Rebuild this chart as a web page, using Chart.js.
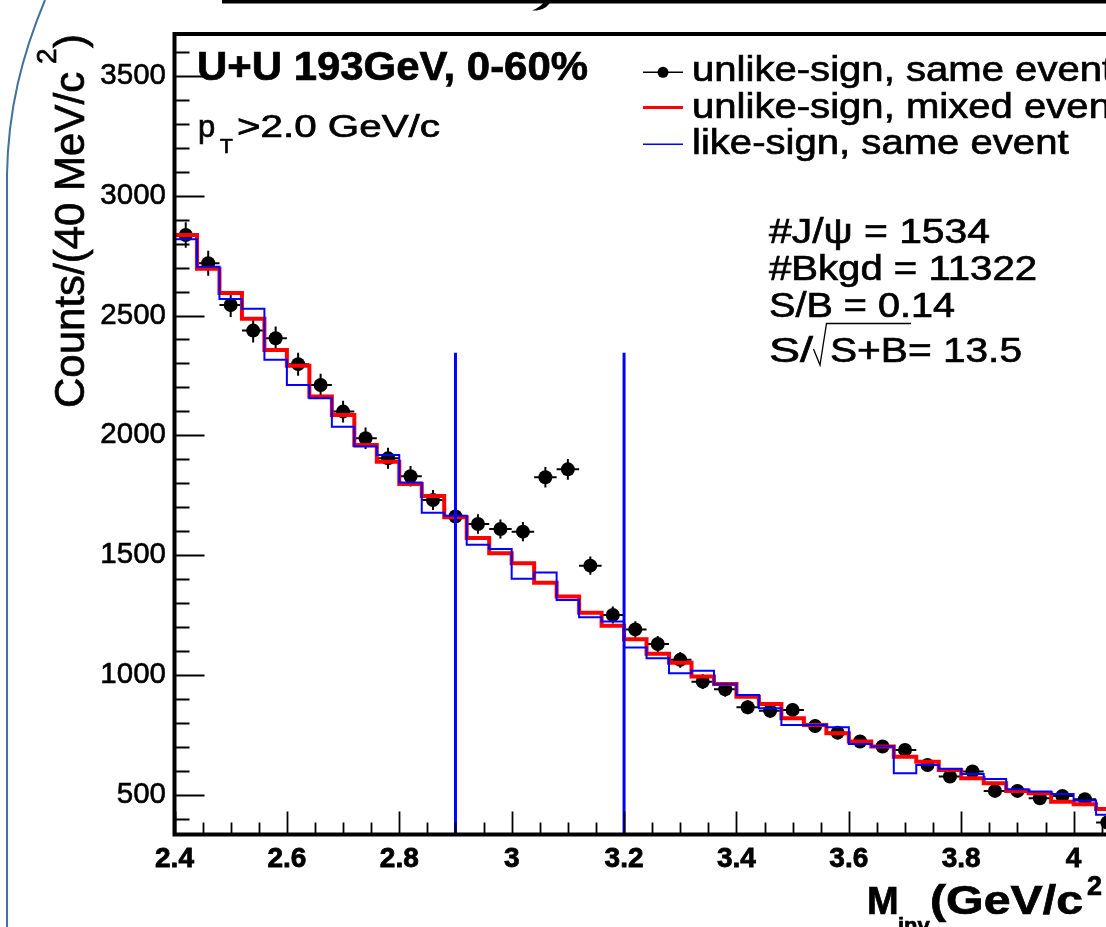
<!DOCTYPE html>
<html>
<head>
<meta charset="utf-8">
<script src="https://cdn.jsdelivr.net/npm/chart.js@4"></script>
<style>
  html, body { margin: 0; padding: 0; background: #fff; }
  #wrap { position: relative; width: 1106px; height: 927px; overflow: hidden; background: #fff; }
  #myChart { position: absolute; left: 0; top: 0; }
  #deco { position: absolute; left: 0; top: 0; pointer-events: none; }
</style>
</head>
<body>
<div id="wrap">
  <canvas id="myChart" width="1260" height="927" style="width:1260px;height:927px"></canvas>
  <svg id="deco" width="1106" height="927">
    <!-- slide border + bottom of the slide title -->
    <path d="M45 0 C22 55 8 110 7 175 L7 927" fill="none" stroke="#41719c" stroke-width="2"/>
    <rect x="222" y="0" width="884" height="3.5" fill="#000"/>
    <path d="M546 0 L551 0 Q548 9 537 10.5 L532 10.5 Q541 7 546 0 Z" fill="#000"/>
  </svg>
</div>
<script>
// bin centres (GeV/c^2), 40 MeV bins
const massBins = [
  2.42, 2.46, 2.50, 2.54, 2.58, 2.62, 2.66, 2.70, 2.74, 2.78,
  2.82, 2.86, 2.90, 2.94, 2.98, 3.02, 3.06, 3.10, 3.14, 3.18,
  3.22, 3.26, 3.30, 3.34, 3.38, 3.42, 3.46, 3.50, 3.54, 3.58,
  3.62, 3.66, 3.70, 3.74, 3.78, 3.82, 3.86, 3.90, 3.94, 3.98,
  4.02, 4.06
];
const halfBin = 0.02;

// unlike-sign, same event (points)
const sameUnlike = [
  2836, 2718, 2544, 2437, 2405, 2297, 2210, 2099, 1988, 1904,
  1829, 1730, 1661, 1630, 1609, 1598, 1825, 1858, 1456, 1250,
  1190, 1129, 1063, 972, 940, 865, 850, 854, 787, 759,
  722, 701, 687, 624, 576, 597, 516, 516, 485, 495,
  481, 384
];
// unlike-sign, mixed event (red)
const mixedUnlike = [
  2836, 2695, 2594, 2487, 2356, 2290, 2162, 2085, 1960, 1890,
  1797, 1747, 1658, 1571, 1508, 1466, 1385, 1327, 1260, 1205,
  1149, 1088, 1051, 993, 962, 909, 879, 819, 791, 757,
  722, 701, 659, 638, 603, 569, 548, 516, 506, 471,
  460, 440
];
// like-sign, same event (blue)
const likeSign = [
  2818, 2704, 2569, 2528, 2315, 2210, 2155, 2036, 1953, 1918,
  1803, 1677, 1664, 1543, 1526, 1401, 1427, 1313, 1241, 1223,
  1114, 1070, 1007, 1017, 961, 916, 861, 791, 791, 782,
  712, 701, 590, 624, 608, 587, 566, 523, 513, 503,
  476, 416
];

// J/psi mass window
const cutEdges = [2.9, 3.2];
const cutTop = 2345;

const xTickValues = [2.4, 2.6, 2.8, 3.0, 3.2, 3.4, 3.6, 3.8, 4.0, 4.2];
const yTickValues = [500, 1000, 1500, 2000, 2500, 3000, 3500];

const X_MIN = 2.4, X_MAX = 4.2;
const Y_MIN = 334, Y_MAX = 3675;

const FONT = '"Liberation Sans", Arial, Helvetica, sans-serif';

// histogram outline from bin contents
function stepData(values) {
  const pts = massBins.map((m, i) => ({ x: m - halfBin, y: values[i] }));
  const last = massBins.length - 1;
  pts.push({ x: massBins[last] + halfBin, y: values[last] });
  return pts;
}

// text a bit heavier, like the scanned ROOT picture
function drawText(ctx, str, x, y) {
  ctx.fillText(str, x, y);
  ctx.strokeText(str, x, y);
}

function fitText(ctx, str, x, y, font, width) {
  ctx.font = font;
  const w = ctx.measureText(str).width;
  ctx.save();
  ctx.translate(x, y);
  ctx.scale(width ? width / w : 1, 1);
  drawText(ctx, str, 0, 0);
  ctx.restore();
}

// error bars for the same-event points
const errorBars = {
  id: "errorBars",
  afterDatasetDraw(chart, args) {
    if (args.index !== 0) return;
    const { ctx, chartArea, scales: { x, y } } = chart;
    ctx.save();
    ctx.beginPath();
    ctx.rect(chartArea.left, chartArea.top, chartArea.right - chartArea.left, chartArea.bottom - chartArea.top);
    ctx.clip();
    ctx.strokeStyle = "#000";
    ctx.lineWidth = 2;
    massBins.forEach((m, i) => {
      const v = sameUnlike[i];
      const e = Math.sqrt(v);
      const px = x.getPixelForValue(m);
      const py = y.getPixelForValue(v);
      ctx.beginPath();
      ctx.moveTo(x.getPixelForValue(m - halfBin), py);
      ctx.lineTo(x.getPixelForValue(m + halfBin), py);
      ctx.moveTo(px, y.getPixelForValue(v - e));
      ctx.lineTo(px, y.getPixelForValue(v + e));
      ctx.stroke();
    });
    ctx.restore();
  },
};

// ROOT style frame with inner ticks
const rootFrame = {
  id: "rootFrame",
  afterDatasetsDraw(chart) {
    const { ctx, chartArea: a, scales: { x, y } } = chart;
    ctx.save();
    ctx.strokeStyle = "#000";
    ctx.lineWidth = 1.8;
    ctx.beginPath();
    // y ticks
    for (let v = Math.ceil(Y_MIN / 100) * 100; v <= Y_MAX; v += 100) {
      const py = Math.round(y.getPixelForValue(v)) + 0.5;
      const len = v % 500 === 0 ? 30 : 15;
      ctx.moveTo(a.left, py);
      ctx.lineTo(a.left + len, py);
    }
    // x ticks
    for (let k = 0; k <= 36; k++) {
      const v = X_MIN + k * 0.05;
      const px = Math.round(x.getPixelForValue(v)) + 0.5;
      const len = k % 4 === 0 ? 23 : 12;
      ctx.moveTo(px, a.bottom);
      ctx.lineTo(px, a.bottom - len);
    }
    ctx.stroke();
    ctx.lineWidth = 4;
    ctx.strokeRect(a.left, a.top, a.right - a.left, a.bottom - a.top);
    ctx.restore();
  },
};

// titles, legend and stats text
const rootText = {
  id: "rootText",
  afterDraw(chart) {
    const ctx = chart.ctx;
    ctx.save();
    ctx.fillStyle = "#000";
    ctx.strokeStyle = "#000";
    ctx.lineWidth = 0.7;
    ctx.textBaseline = "alphabetic";
    ctx.textAlign = "left";

    // system label
    fitText(ctx, "U+U 193GeV, 0-60%", 197, 80, `bold 40px ${FONT}`, 391);
    ctx.font = `31px ${FONT}`;
    drawText(ctx, "p", 198, 137);
    ctx.font = `21px ${FONT}`;
    drawText(ctx, "T", 220, 153);
    fitText(ctx, ">2.0 GeV/c", 237, 137, `31px ${FONT}`, 203);

    // legend
    ctx.font = `35px ${FONT}`;
    const sx = 376.6 / ctx.measureText("like-sign, same event").width;
    const legendRows = [
      { text: "unlike-sign, same event", y: 81, color: "#000", width: 1.5, dot: true },
      { text: "unlike-sign, mixed event", y: 117.5, color: "#ff0000", width: 3, dot: false },
      { text: "like-sign, same event", y: 154, color: "#0000ff", width: 1.5, dot: false },
    ];
    const lineY = [72.3, 107.5, 144.3];
    legendRows.forEach((r, i) => {
      ctx.save();
      ctx.strokeStyle = r.color;
      ctx.lineWidth = r.width;
      ctx.beginPath();
      ctx.moveTo(643, lineY[i]);
      ctx.lineTo(683, lineY[i]);
      ctx.stroke();
      if (r.dot) {
        ctx.beginPath();
        ctx.arc(663, lineY[i], 5.5, 0, Math.PI * 2);
        ctx.fill();
      }
      ctx.restore();
      ctx.save();
      ctx.translate(692, r.y);
      ctx.scale(sx, 1);
      drawText(ctx, r.text, 0, 0);
      ctx.restore();
    });

    // signal stats
    const sf = `35px ${FONT}`;
    fitText(ctx, "#J/\u03c8 = 1534", 769, 243, sf, 221);
    fitText(ctx, "#Bkgd = 11322", 769, 280, sf, 268);
    fitText(ctx, "S/B = 0.14", 769, 317, sf, 186);
    fitText(ctx, "S/", 769, 362, sf, 44);
    fitText(ctx, "S+B= 13.5", 830, 362, sf, 192);
    ctx.save();
    ctx.lineWidth = 1.3;
    ctx.beginPath();
    ctx.moveTo(813.5, 349);
    ctx.lineTo(820, 365);
    ctx.lineTo(826.5, 323.5);
    ctx.lineTo(911, 323.5);
    ctx.stroke();
    ctx.restore();

    // y title
    ctx.save();
    ctx.translate(84, 408);
    ctx.rotate(-Math.PI / 2);
    ctx.font = `42px ${FONT}`;
    drawText(ctx, "Counts/(40 MeV/c", 0, 0);
    ctx.font = `28px ${FONT}`;
    drawText(ctx, "2", 344, -28);
    ctx.font = `42px ${FONT}`;
    drawText(ctx, ")", 360, 0);
    ctx.restore();

    // x title
    ctx.font = `bold 38px ${FONT}`;
    drawText(ctx, "M", 867, 914);
    ctx.font = `bold 22px ${FONT}`;
    drawText(ctx, "inv", 898, 933);
    fitText(ctx, "(GeV/c", 930, 914, `bold 40px ${FONT}`, 153);
    ctx.font = `bold 27px ${FONT}`;
    drawText(ctx, "2", 1087, 895);
    ctx.font = `bold 40px ${FONT}`;
    drawText(ctx, ")", 1110, 914);

    ctx.restore();
  },
};

const ctx = document.getElementById("myChart").getContext("2d");

const myChart = new Chart(ctx, {
  type: "line",
  data: {
    datasets: [
      {
        label: "unlike-sign, same event",
        data: massBins.map((m, i) => ({ x: m, y: sameUnlike[i] })),
        showLine: false,
        pointRadius: 7,
        pointBackgroundColor: "#000",
        pointBorderWidth: 0,
        order: 3,
      },
      {
        label: "unlike-sign, mixed event",
        data: stepData(mixedUnlike),
        stepped: "before",
        borderColor: "#ff0000",
        borderWidth: 4,
        pointRadius: 0,
        borderJoinStyle: "miter",
        order: 2,
      },
      {
        label: "like-sign, same event",
        data: stepData(likeSign),
        stepped: "before",
        borderColor: "#0000ff",
        borderWidth: 2,
        pointRadius: 0,
        borderJoinStyle: "miter",
        order: 1,
      },
      ...cutEdges.map((c) => ({
        label: "cut",
        data: [{ x: c, y: Y_MIN }, { x: c, y: cutTop }],
        borderColor: "#0000ff",
        borderWidth: 3,
        pointRadius: 0,
        order: 0,
      })),
    ],
  },
  options: {
    responsive: false,
    animation: false,
    devicePixelRatio: 1,
    layout: { padding: { left: 0, top: 34, right: 74, bottom: 0 } },
    plugins: { legend: { display: false }, tooltip: { enabled: false } },
    scales: {
      x: {
        type: "linear",
        min: X_MIN,
        max: X_MAX,
        grid: { display: false, drawTicks: false, tickLength: 0 },
        border: { display: false },
        afterBuildTicks: (s) => { s.ticks = xTickValues.map((v) => ({ value: v })); },
        afterFit: (s) => { s.height = 92.5; },
        ticks: {
          autoSkip: false,
          maxRotation: 0,
          padding: 8,
          color: "#000",
          textStrokeColor: "#000",
          textStrokeWidth: 0.8,
          font: { family: FONT, size: 28, weight: "bold" },
          callback: (v) => String(+Number(v).toFixed(1)),
        },
      },
      y: {
        type: "linear",
        min: Y_MIN,
        max: Y_MAX,
        grid: { display: false, drawTicks: false, tickLength: 0 },
        border: { display: false },
        afterBuildTicks: (s) => { s.ticks = yTickValues.map((v) => ({ value: v })); },
        afterFit: (s) => { s.width = 174.5; },
        ticks: {
          padding: 8.5,
          color: "#000",
          textStrokeColor: "#000",
          textStrokeWidth: 0.6,
          font: { family: FONT, size: 29.5 },
          callback: (v) => String(v),
        },
      },
    },
  },
  plugins: [errorBars, rootFrame, rootText],
});
</script>
</body>
</html>
